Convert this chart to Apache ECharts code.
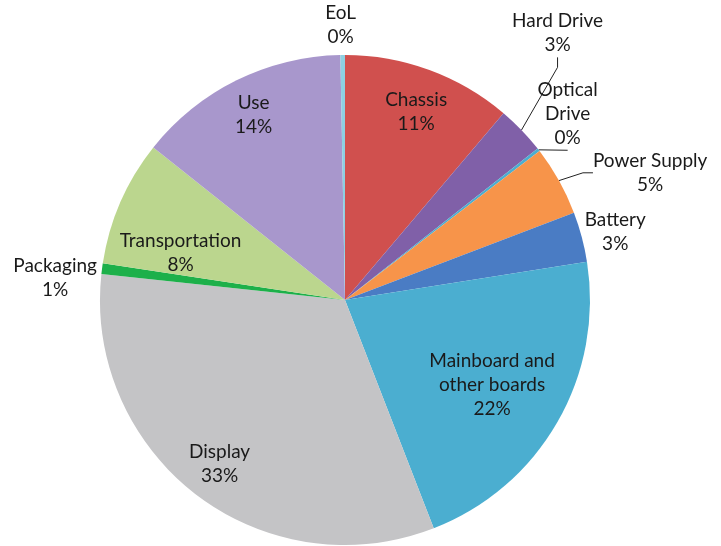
<!DOCTYPE html>
<html><head><meta charset="utf-8">
<script src="https://cdn.jsdelivr.net/npm/echarts@6/dist/echarts.min.js"></script>
<style>html,body{margin:0;padding:0;background:#fff}#c{width:721px;height:546px}</style>
</head><body><div id="c"></div>
<script>
const categories = ['Chassis','Hard Drive','Optical\nDrive','Power Supply','Battery','Mainboard and\nother boards','Display','Packaging','Transportation','Use','EoL'];
const values = [11.2, 3.2, 0.2, 4.6, 3.3, 21.6, 32.6, 0.7, 8.3, 14.0, 0.3];
const colors = ['#D0504E','#8060A8','#4BAED0','#F7944A','#4A7CC4','#4BAED0','#C4C4C6','#1DB04A','#BBD68E','#A897CC','#8ED0E2'];
// label style per slice: 'far' inside (outer ring), 'near' inside (middle), 'out' with line, 'outnl' no line
const labelKind = ['far','out','out','out','outnl','near','far','outnl','near','far','outnl'];
// label nudges [dx, dy] relative to the library's label anchor
const nudge = {0:[0,6], 1:[11,-87], 2:[3,-27], 3:[64,-1], 4:[5,-1], 7:[-18,11], 10:[13,-16], 8:[-9,21]};

const total = values.reduce((a,b)=>a+b,0);
const fmt = p => p.name + '\n' + Math.round(p.value/total*100) + '%';
const font = {fontFamily:'Lato, "Open Sans", sans-serif', fontSize:19, color:'#1a1a1a', lineHeight:24};

const C = [345, 300], R = 245;

const base = categories.map((n,i)=>({name:n, value:values[i], itemStyle:{color:colors[i]}}));

function labelData(kinds){
  return categories.map((n,i)=>{
    const k = labelKind[i];
    const show = kinds.includes(k);
    const o = {name:n, value:values[i], itemStyle:{color:'transparent'}};
    if (!show) { o.label={show:false}; o.labelLine={show:false}; return o; }
    if (k==='far' || k==='near') { o.label={show:true, position:'inside', formatter:fmt, ...font, align:'center'}; o.labelLine={show:false}; }
    else { o.label={show:true, position:'outside', formatter:fmt, ...font}; o.labelLine={show:k==='out', length:14, length2:10, lineStyle:{color:'#222', width:1}}; }
    return o;
  });
}

function layoutFn(p){
  const n = nudge[p.dataIndex];
  const r = p.labelRect;
  const k = labelKind[p.dataIndex];
  if (k==='far' || k==='near') {
    if (!n) return {hideOverlap:false};
    return {x: r.x + r.width/2 + n[0], y: r.y + r.height/2 + n[1], align:'center', verticalAlign:'middle', hideOverlap:false};
  }
  if (!n) return {hideOverlap:false};
  const ax = p.align === 'right' ? r.x + r.width : r.x;
  const ay = r.y + r.height/2;
  return {x: ax + n[0], y: ay + n[1], align:'center', verticalAlign:'middle', hideOverlap:false};
}

const chart = echarts.init(document.getElementById('c'));
chart.setOption({
  animation:false,
  series:[
    {type:'pie', center:C, radius:[0,R], startAngle:90, clockwise:true, label:{show:false}, labelLine:{show:false}, silent:true, data:base},
    {type:'pie', center:C, radius:[R*0.66,R], startAngle:90, clockwise:true, silent:true, avoidLabelOverlap:false, minShowLabelAngle:0, labelLayout:layoutFn, data:labelData(['far','out','outnl'])},
    {type:'pie', center:C, radius:[R*0.36,R], startAngle:90, clockwise:true, silent:true, avoidLabelOverlap:false, labelLayout:layoutFn, data:labelData(['near'])}
  ]
});
</script></body></html>
